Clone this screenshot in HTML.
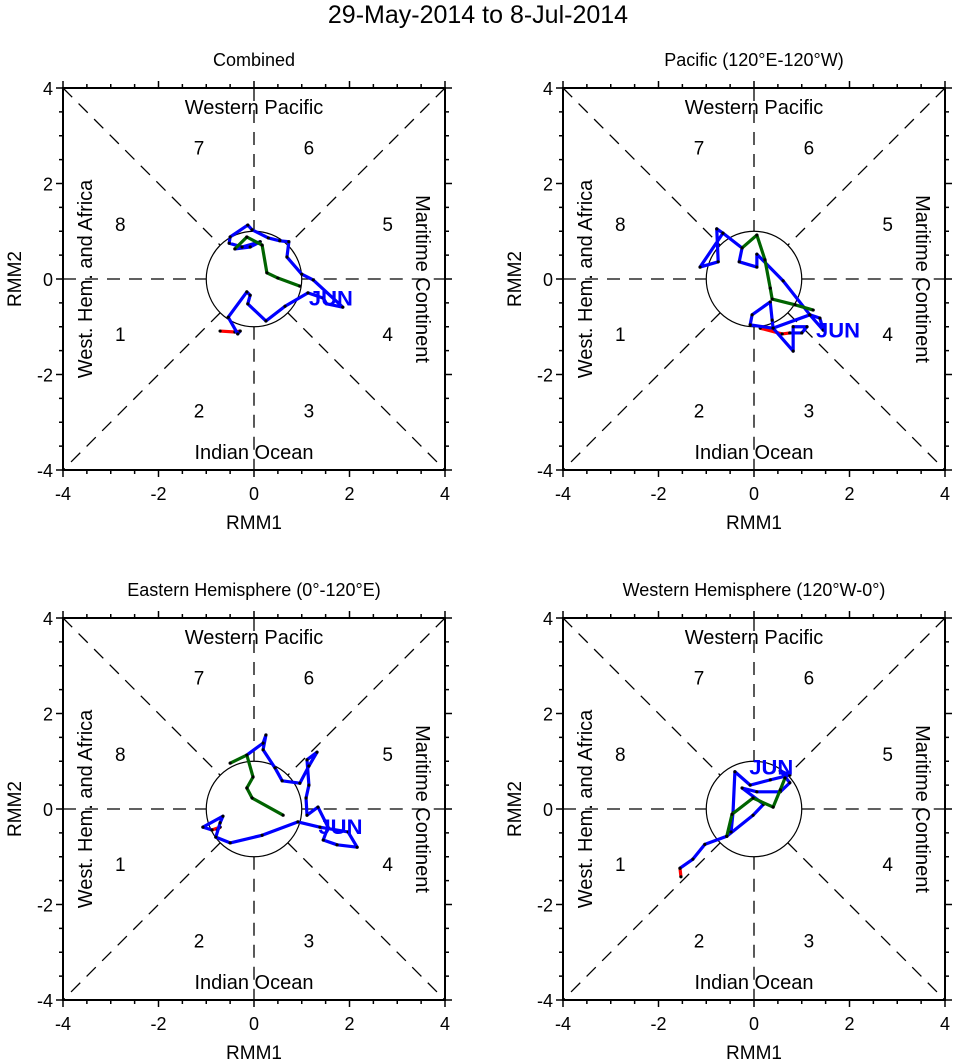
<!DOCTYPE html>
<html><head><meta charset="utf-8"><style>
body{margin:0;background:#fff;}
svg{display:block;font-family:"Liberation Sans",sans-serif;}
</style></head><body>
<svg id="chart" width="956" height="1060" viewBox="0 0 956 1060">
<text x="478" y="23" font-size="25" text-anchor="middle">29-May-2014 to 8-Jul-2014</text>
</svg>
<script>
// Panel data: [RMM1, RMM2] trajectories (red = late May, blue = June, green = July)
const panelTitles = ["Combined","Pacific (120°E-120°W)","Eastern Hemisphere (0°-120°E)","Western Hemisphere (120°W-0°)"];
const tickLabels = [-4,-2,0,2,4];
const p1Red = [[-0.71,-1.09],[-0.40,-1.11],[-0.29,-1.09]];
const p1Blue = [[-0.29,-1.09],[-0.34,-1.15],[-0.54,-0.80],[-0.15,-0.27],[-0.08,-0.34],[-0.13,-0.52],[0.25,-0.88],[0.65,-0.57],[1.13,-0.29],[1.45,-0.40],[1.52,-0.52],[1.86,-0.59],[1.24,-0.02],[1.00,0.10],[0.69,0.46],[0.73,0.78],[0.54,0.80],[0.30,0.86],[-0.04,1.03],[-0.13,1.13],[-0.50,0.88],[-0.52,0.75],[-0.25,0.67],[0.13,0.78],[-0.08,0.67],[-0.40,0.63]];
const p1Green = [[-0.40,0.63],[-0.15,0.88],[0.17,0.71],[0.27,0.13],[0.50,0.02],[0.96,-0.15]];
const p2Red = [[0.13,-1.03],[0.59,-1.15],[0.75,-1.13]];
const p2Blue = [[0.75,-1.13],[1.00,-1.13],[1.11,-1.00],[0.82,-1.00],[0.82,-1.51],[0.40,-1.03],[0.38,-0.86],[0.34,-0.48],[-0.04,-0.75],[-0.08,-0.96],[0.40,-1.03],[1.17,-0.75],[1.38,-0.82],[1.45,-1.07],[1.17,-0.75],[0.61,-0.04],[0.06,0.52],[0.06,0.25],[-0.31,0.36],[-0.25,0.65],[-0.65,0.96],[-0.78,1.05],[-0.75,0.36],[-1.13,0.25],[-0.65,0.96],[-0.25,0.65]];
const p2Green = [[-0.25,0.65],[0.06,0.92],[0.23,0.40],[0.34,-0.19],[0.38,-0.42],[0.86,-0.54],[1.24,-0.65]];
const p3Red = [[-0.77,-0.44],[-0.71,-0.38],[-0.88,-0.44]];
const p3Blue = [[-0.88,-0.44],[-1.07,-0.38],[-0.65,-0.15],[-0.71,-0.29],[-0.80,-0.59],[-0.50,-0.71],[0.17,-0.55],[0.92,-0.27],[1.38,-0.38],[1.97,-0.48],[2.16,-0.80],[1.74,-0.75],[1.45,-0.65],[1.55,-0.38],[1.34,0.04],[1.11,-0.13],[1.09,0.23],[1.15,0.50],[1.11,1.03],[1.32,1.19],[1.15,0.90],[0.96,0.54],[0.59,0.59],[0.44,0.86],[0.19,1.24],[0.25,1.55],[0.19,1.38],[-0.15,1.13]];
const p3Green = [[-0.50,0.96],[-0.15,1.13],[-0.02,0.67],[-0.15,0.44],[-0.04,0.23],[0.61,-0.13]];
const p4Red = [[-1.53,-1.42],[-1.55,-1.24]];
const p4Blue = [[-1.55,-1.24],[-1.28,-1.05],[-1.03,-0.74],[-0.57,-0.57],[-0.48,-0.48],[-0.44,-0.08],[-0.40,0.78],[-0.08,0.50],[0.34,0.61],[0.75,0.71],[0.55,0.80],[0.75,0.55],[0.55,0.36],[0.06,0.36],[-0.25,0.44],[0.20,0.10],[-0.02,-0.13],[-0.57,-0.57]];
const p4Green = [[-0.57,-0.57],[-0.46,-0.11],[-0.02,0.23],[0.40,0.04],[0.55,0.40],[0.65,0.65]];
const panelRed=[p1Red,p2Red,p3Red,p4Red], panelBlue=[p1Blue,p2Blue,p3Blue,p4Blue], panelGreen=[p1Green,p2Green,p3Green,p4Green];
const junPos=[[1.15,-0.55],[1.3,-1.22],[1.35,-0.52],[-0.1,0.72]];

const svg=document.getElementById('chart');
const NS='http://www.w3.org/2000/svg';
function mk(tag,attrs,parent,text){const e=document.createElementNS(NS,tag);for(const k in attrs)e.setAttribute(k,attrs[k]);if(text!==undefined)e.textContent=text;(parent||svg).appendChild(e);return e;}
const origins=[[63,88],[563,88],[63,618],[563,618]];
const S=382/8;
origins.forEach((o,i)=>{
  const g=mk('g',{});
  
  
  const X=v=>o[0]+(v+4)*S, Y=v=>o[1]+(4-v)*S;
  const cx=X(0), cy=Y(0);
  const t=mk('text',{x:cx,y:o[1]-22,'font-size':18,'text-anchor':'middle'},g,panelTitles[i]);
  
  
  const r=S, d=r/Math.SQRT2;
  const segs=[[X(-4),cy,cx-r,cy],[cx+r,cy,X(4),cy],[cx,Y(4),cx,cy-r],[cx,cy+r,cx,Y(-4)],
    [X(-4),Y(4),cx-d,cy-d],[cx+d,cy+d,X(4),Y(-4)],[X(4),Y(4),cx+d,cy-d],[cx-d,cy+d,X(-4),Y(-4)]];
  segs.forEach(s=>mk('line',{x1:s[0],y1:s[1],x2:s[2],y2:s[3],stroke:'#000','stroke-width':1.3,'stroke-dasharray':'13,9'},g));
  mk('circle',{cx:cx,cy:cy,r:r,fill:'none',stroke:'#000','stroke-width':1.2},g);
  mk('rect',{x:o[0],y:o[1],width:382,height:382,fill:'none',stroke:'#000','stroke-width':2},g);
  for(let v=-4;v<=4.001;v+=0.5){
    const L=(Math.abs(v%2)<0.01)?7:4;
    mk('line',{x1:X(v),y1:Y(-4),x2:X(v),y2:Y(-4)+L,stroke:'#000','stroke-width':1.5},g);
    mk('line',{x1:X(v),y1:Y(4),x2:X(v),y2:Y(4)-L,stroke:'#000','stroke-width':1.5},g);
    mk('line',{x1:X(-4),y1:Y(v),x2:X(-4)-L,y2:Y(v),stroke:'#000','stroke-width':1.5},g);
    mk('line',{x1:X(4),y1:Y(v),x2:X(4)+L,y2:Y(v),stroke:'#000','stroke-width':1.5},g);
  }
  tickLabels.forEach(v=>{
    const a=mk('text',{x:X(v),y:Y(-4)+30,'font-size':18,'text-anchor':'middle'},g,String(v));
    
    
    const b=mk('text',{x:X(-4)-10,y:Y(v)+7,'font-size':18,'text-anchor':'end'},g,String(v));
    
    
  });
  const xt=mk('text',{x:cx,y:Y(-4)+59,'font-size':19,'text-anchor':'middle'},g,'RMM1');
  
  
  const yt=mk('text',{x:0,y:0,'font-size':19,'text-anchor':'middle',transform:`translate(${o[0]-42},${cy}) rotate(-90)`},g,'RMM2');
  
  
  const wp=mk('text',{x:cx,y:o[1]+26,'font-size':20,'text-anchor':'middle'},g,'Western Pacific');
  
  
  const io=mk('text',{x:cx,y:Y(-4)-11,'font-size':20,'text-anchor':'middle'},g,'Indian Ocean');
  
  
  const wh=mk('text',{x:0,y:0,'font-size':20,'text-anchor':'middle',transform:`translate(${o[0]+29},${cy}) rotate(-90)`},g,'West. Hem. and Africa');
  
  
  const mc=mk('text',{x:0,y:0,'font-size':20,'text-anchor':'middle',transform:`translate(${X(4)-29},${cy}) rotate(90)`},g,'Maritime Continent');
  
  
  const ph=[[7,-1.15,2.75],[6,1.15,2.75],[8,-2.8,1.15],[5,2.8,1.15],[1,-2.8,-1.15],[4,2.8,-1.15],[2,-1.15,-2.75],[3,1.15,-2.75]];
  ph.forEach(p=>{
    const e=mk('text',{x:X(p[1]),y:Y(p[2])+7,'font-size':19,'text-anchor':'middle'},g,String(p[0]));
    
    
  });
  const line=(arr,col,name)=>{
    const e=mk('polyline',{points:arr.map(p=>X(p[0])+','+Y(p[1])).join(' '),fill:'none',stroke:col,'stroke-width':3.2,'stroke-linejoin':'round'},g);
    
    
    arr.forEach(p=>mk('circle',{cx:X(p[0]),cy:Y(p[1]),r:1.6,fill:'#000'},g));
  };
  line(panelRed[i],'#ff0000','may-trajectory');
  line(panelBlue[i],'#0000ff','june-trajectory');
  line(panelGreen[i],'#006400','july-trajectory');
  const jn=mk('text',{x:X(junPos[i][0]),y:Y(junPos[i][1]),'font-size':21,'font-weight':'bold',fill:'#0000ff',textLength:44,lengthAdjust:'spacingAndGlyphs'},g,'JUN');
  
  
});
</script>
</body></html>
